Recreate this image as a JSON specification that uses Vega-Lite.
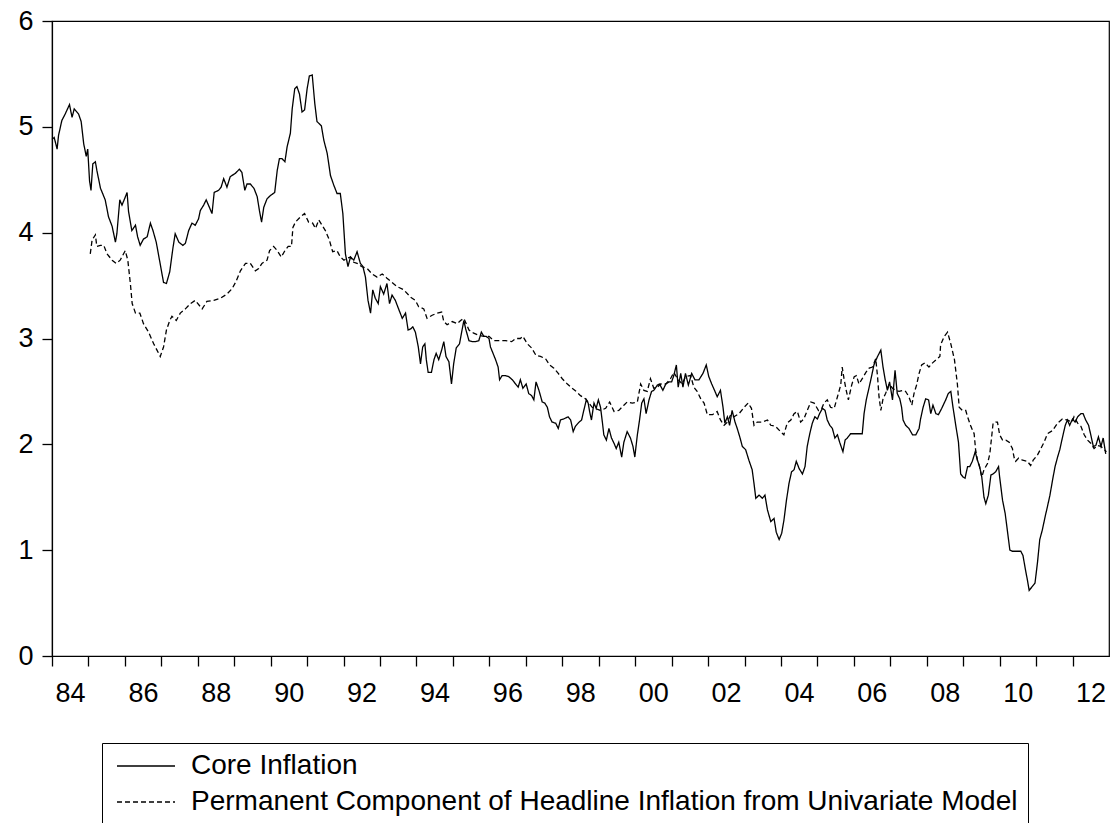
{
 "$schema": "https://vega.github.io/schema/vega-lite/v6.json",
 "width": 1057,
 "height": 635,
 "autosize": {"type": "none"},
 "padding": {"left": 52, "top": 21, "right": 4, "bottom": 167},
 "background": "white",
 "config": {
  "view": {"stroke": "black", "strokeWidth": 1.2},
  "font": "Liberation Sans",
  "axis": {"grid": false, "domain": true, "ticks": true, "domainColor": "black", "domainWidth": 1.2, "tickColor": "black", "tickWidth": 1.3, "labelColor": "black", "labelFont": "Liberation Sans", "labelFontSize": 27, "tickSize": 10, "title": null}
 },
 "datasets": {
  "core": [
   {"t":1984.00,"v":4.88},{"t":1984.06,"v":4.90},{"t":1984.14,"v":4.79},{"t":1984.18,"v":4.92},{"t":1984.27,"v":5.06},{"t":1984.36,"v":5.12},{"t":1984.48,"v":5.21},{"t":1984.55,"v":5.09},{"t":1984.61,"v":5.17},{"t":1984.73,"v":5.12},{"t":1984.80,"v":5.05},{"t":1984.87,"v":4.84},{"t":1984.94,"v":4.72},{"t":1984.98,"v":4.79},
   {"t":1985.03,"v":4.49},{"t":1985.07,"v":4.40},{"t":1985.12,"v":4.65},{"t":1985.19,"v":4.67},{"t":1985.23,"v":4.59},{"t":1985.33,"v":4.42},{"t":1985.46,"v":4.31},{"t":1985.55,"v":4.15},{"t":1985.65,"v":4.06},{"t":1985.74,"v":3.91},{"t":1985.78,"v":3.99},{"t":1985.86,"v":4.31},{"t":1985.92,"v":4.26},{"t":1985.98,"v":4.31},
   {"t":1986.06,"v":4.38},{"t":1986.10,"v":4.20},{"t":1986.19,"v":4.02},{"t":1986.29,"v":4.07},{"t":1986.35,"v":3.96},{"t":1986.42,"v":3.88},{"t":1986.51,"v":3.94},{"t":1986.61,"v":3.96},{"t":1986.70,"v":4.09},{"t":1986.77,"v":4.02},{"t":1986.86,"v":3.91},{"t":1986.95,"v":3.74},
   {"t":1987.06,"v":3.53},{"t":1987.14,"v":3.52},{"t":1987.23,"v":3.63},{"t":1987.32,"v":3.86},{"t":1987.38,"v":3.99},{"t":1987.48,"v":3.91},{"t":1987.59,"v":3.88},{"t":1987.66,"v":3.90},{"t":1987.75,"v":4.02},{"t":1987.84,"v":4.09},{"t":1987.93,"v":4.07},
   {"t":1988.02,"v":4.13},{"t":1988.07,"v":4.21},{"t":1988.16,"v":4.26},{"t":1988.23,"v":4.31},{"t":1988.33,"v":4.23},{"t":1988.39,"v":4.18},{"t":1988.45,"v":4.38},{"t":1988.57,"v":4.40},{"t":1988.64,"v":4.43},{"t":1988.71,"v":4.51},{"t":1988.80,"v":4.43},{"t":1988.89,"v":4.53},
   {"t":1989.03,"v":4.56},{"t":1989.14,"v":4.60},{"t":1989.21,"v":4.57},{"t":1989.29,"v":4.40},{"t":1989.35,"v":4.46},{"t":1989.44,"v":4.46},{"t":1989.54,"v":4.42},{"t":1989.63,"v":4.34},{"t":1989.69,"v":4.21},{"t":1989.75,"v":4.10},{"t":1989.81,"v":4.24},{"t":1989.90,"v":4.32},{"t":1989.99,"v":4.35},
   {"t":1990.11,"v":4.38},{"t":1990.18,"v":4.59},{"t":1990.24,"v":4.70},{"t":1990.31,"v":4.70},{"t":1990.39,"v":4.67},{"t":1990.45,"v":4.81},{"t":1990.54,"v":4.94},{"t":1990.59,"v":5.17},{"t":1990.66,"v":5.36},{"t":1990.72,"v":5.38},{"t":1990.79,"v":5.31},{"t":1990.86,"v":5.14},{"t":1990.93,"v":5.16},
   {"t":1991.00,"v":5.36},{"t":1991.06,"v":5.48},{"t":1991.14,"v":5.49},{"t":1991.21,"v":5.22},{"t":1991.27,"v":5.05},{"t":1991.39,"v":5.01},{"t":1991.46,"v":4.87},{"t":1991.55,"v":4.75},{"t":1991.64,"v":4.54},{"t":1991.73,"v":4.45},{"t":1991.82,"v":4.37},{"t":1991.91,"v":4.37},{"t":1991.98,"v":4.18},
   {"t":1992.05,"v":3.80},{"t":1992.12,"v":3.68},{"t":1992.19,"v":3.77},{"t":1992.28,"v":3.74},{"t":1992.37,"v":3.82},{"t":1992.46,"v":3.71},{"t":1992.53,"v":3.68},{"t":1992.60,"v":3.58},{"t":1992.67,"v":3.36},{"t":1992.74,"v":3.24},{"t":1992.80,"v":3.46},{"t":1992.87,"v":3.38},{"t":1992.95,"v":3.33},
   {"t":1993.01,"v":3.49},{"t":1993.10,"v":3.42},{"t":1993.19,"v":3.52},{"t":1993.26,"v":3.33},{"t":1993.33,"v":3.41},{"t":1993.42,"v":3.36},{"t":1993.52,"v":3.27},{"t":1993.61,"v":3.19},{"t":1993.70,"v":3.24},{"t":1993.77,"v":3.08},{"t":1993.84,"v":3.09},{"t":1993.90,"v":3.11},{"t":1993.97,"v":3.06},
   {"t":1994.05,"v":2.92},{"t":1994.11,"v":2.76},{"t":1994.17,"v":2.92},{"t":1994.23,"v":2.95},{"t":1994.27,"v":2.80},{"t":1994.32,"v":2.68},{"t":1994.41,"v":2.68},{"t":1994.48,"v":2.80},{"t":1994.54,"v":2.86},{"t":1994.61,"v":2.80},{"t":1994.69,"v":2.89},{"t":1994.75,"v":2.97},{"t":1994.81,"v":2.83},{"t":1994.89,"v":2.78},{"t":1994.96,"v":2.57},
   {"t":1995.02,"v":2.76},{"t":1995.09,"v":2.91},{"t":1995.18,"v":2.95},{"t":1995.25,"v":3.08},{"t":1995.30,"v":3.17},{"t":1995.35,"v":3.09},{"t":1995.44,"v":2.98},{"t":1995.53,"v":2.97},{"t":1995.62,"v":2.97},{"t":1995.71,"v":2.98},{"t":1995.78,"v":3.06},{"t":1995.85,"v":3.02},{"t":1995.91,"v":3.02},{"t":1995.99,"v":3.00},
   {"t":1996.03,"v":2.92},{"t":1996.10,"v":2.86},{"t":1996.17,"v":2.80},{"t":1996.24,"v":2.73},{"t":1996.28,"v":2.61},{"t":1996.35,"v":2.65},{"t":1996.44,"v":2.65},{"t":1996.53,"v":2.64},{"t":1996.63,"v":2.61},{"t":1996.72,"v":2.57},{"t":1996.79,"v":2.54},{"t":1996.85,"v":2.61},{"t":1996.92,"v":2.53},
   {"t":1997.01,"v":2.57},{"t":1997.08,"v":2.48},{"t":1997.16,"v":2.46},{"t":1997.22,"v":2.42},{"t":1997.28,"v":2.59},{"t":1997.36,"v":2.51},{"t":1997.45,"v":2.40},{"t":1997.52,"v":2.39},{"t":1997.59,"v":2.35},{"t":1997.65,"v":2.26},{"t":1997.72,"v":2.21},{"t":1997.82,"v":2.20},{"t":1997.89,"v":2.15},{"t":1997.95,"v":2.23},
   {"t":1998.04,"v":2.24},{"t":1998.16,"v":2.26},{"t":1998.23,"v":2.23},{"t":1998.30,"v":2.12},{"t":1998.36,"v":2.17},{"t":1998.46,"v":2.21},{"t":1998.53,"v":2.23},{"t":1998.59,"v":2.32},{"t":1998.66,"v":2.42},{"t":1998.71,"v":2.39},{"t":1998.75,"v":2.31},{"t":1998.80,"v":2.23},{"t":1998.87,"v":2.39},{"t":1998.93,"v":2.34},{"t":1998.99,"v":2.42},
   {"t":1999.05,"v":2.35},{"t":1999.10,"v":2.21},{"t":1999.14,"v":2.09},{"t":1999.21,"v":2.04},{"t":1999.28,"v":2.15},{"t":1999.35,"v":2.06},{"t":1999.42,"v":2.01},{"t":1999.48,"v":1.96},{"t":1999.55,"v":2.02},{"t":1999.63,"v":1.88},{"t":1999.69,"v":2.02},{"t":1999.78,"v":2.12},{"t":1999.87,"v":2.06},{"t":1999.94,"v":1.98},{"t":1999.99,"v":1.88},
   {"t":2000.06,"v":2.09},{"t":2000.12,"v":2.23},{"t":2000.18,"v":2.39},{"t":2000.24,"v":2.43},{"t":2000.30,"v":2.29},{"t":2000.38,"v":2.42},{"t":2000.45,"v":2.50},{"t":2000.51,"v":2.51},{"t":2000.61,"v":2.56},{"t":2000.67,"v":2.57},{"t":2000.76,"v":2.51},{"t":2000.84,"v":2.57},{"t":2000.93,"v":2.59},
   {"t":2001.00,"v":2.59},{"t":2001.06,"v":2.65},{"t":2001.13,"v":2.75},{"t":2001.18,"v":2.54},{"t":2001.25,"v":2.67},{"t":2001.31,"v":2.54},{"t":2001.38,"v":2.67},{"t":2001.46,"v":2.56},{"t":2001.55,"v":2.67},{"t":2001.64,"v":2.61},{"t":2001.75,"v":2.61},{"t":2001.86,"v":2.67},{"t":2001.95,"v":2.75},
   {"t":2002.02,"v":2.64},{"t":2002.10,"v":2.57},{"t":2002.19,"v":2.50},{"t":2002.25,"v":2.45},{"t":2002.34,"v":2.51},{"t":2002.41,"v":2.35},{"t":2002.46,"v":2.20},{"t":2002.53,"v":2.26},{"t":2002.59,"v":2.18},{"t":2002.66,"v":2.32},{"t":2002.74,"v":2.21},{"t":2002.80,"v":2.15},{"t":2002.87,"v":2.07},{"t":2002.94,"v":1.98},
   {"t":2003.03,"v":1.95},{"t":2003.12,"v":1.85},{"t":2003.21,"v":1.76},{"t":2003.26,"v":1.63},{"t":2003.31,"v":1.49},{"t":2003.40,"v":1.52},{"t":2003.49,"v":1.49},{"t":2003.56,"v":1.52},{"t":2003.63,"v":1.38},{"t":2003.72,"v":1.27},{"t":2003.81,"v":1.30},{"t":2003.87,"v":1.17},{"t":2003.95,"v":1.10},
   {"t":2004.02,"v":1.16},{"t":2004.08,"v":1.28},{"t":2004.15,"v":1.47},{"t":2004.22,"v":1.63},{"t":2004.29,"v":1.74},{"t":2004.36,"v":1.76},{"t":2004.42,"v":1.84},{"t":2004.50,"v":1.77},{"t":2004.59,"v":1.72},{"t":2004.66,"v":1.79},{"t":2004.72,"v":1.98},{"t":2004.79,"v":2.10},{"t":2004.86,"v":2.20},{"t":2004.93,"v":2.26},
   {"t":2005.00,"v":2.24},{"t":2005.06,"v":2.29},{"t":2005.14,"v":2.34},{"t":2005.21,"v":2.32},{"t":2005.27,"v":2.23},{"t":2005.34,"v":2.18},{"t":2005.41,"v":2.15},{"t":2005.48,"v":2.06},{"t":2005.55,"v":2.09},{"t":2005.61,"v":2.02},{"t":2005.70,"v":1.93},{"t":2005.76,"v":2.04},{"t":2005.82,"v":2.06},{"t":2005.91,"v":2.10},
   {"t":2006.05,"v":2.10},{"t":2006.23,"v":2.10},{"t":2006.28,"v":2.29},{"t":2006.34,"v":2.42},{"t":2006.42,"v":2.54},{"t":2006.49,"v":2.65},{"t":2006.55,"v":2.75},{"t":2006.65,"v":2.83},{"t":2006.74,"v":2.89},{"t":2006.80,"v":2.73},{"t":2006.86,"v":2.61},{"t":2006.92,"v":2.51},{"t":2006.98,"v":2.59},
   {"t":2007.06,"v":2.42},{"t":2007.13,"v":2.70},{"t":2007.19,"v":2.48},{"t":2007.26,"v":2.43},{"t":2007.31,"v":2.35},{"t":2007.35,"v":2.23},{"t":2007.42,"v":2.18},{"t":2007.51,"v":2.15},{"t":2007.61,"v":2.09},{"t":2007.70,"v":2.09},{"t":2007.79,"v":2.15},{"t":2007.83,"v":2.24},{"t":2007.90,"v":2.35},{"t":2007.97,"v":2.43},
   {"t":2008.05,"v":2.42},{"t":2008.11,"v":2.29},{"t":2008.17,"v":2.37},{"t":2008.25,"v":2.29},{"t":2008.32,"v":2.28},{"t":2008.41,"v":2.34},{"t":2008.52,"v":2.42},{"t":2008.59,"v":2.48},{"t":2008.66,"v":2.50},{"t":2008.72,"v":2.35},{"t":2008.80,"v":2.17},{"t":2008.87,"v":2.02},{"t":2008.93,"v":1.72},
   {"t":2009.00,"v":1.69},{"t":2009.05,"v":1.68},{"t":2009.12,"v":1.79},{"t":2009.18,"v":1.79},{"t":2009.25,"v":1.84},{"t":2009.33,"v":1.93},{"t":2009.39,"v":1.85},{"t":2009.45,"v":1.79},{"t":2009.51,"v":1.69},{"t":2009.57,"v":1.50},{"t":2009.62,"v":1.44},{"t":2009.69,"v":1.52},{"t":2009.76,"v":1.71},{"t":2009.82,"v":1.72},{"t":2009.89,"v":1.74},{"t":2009.97,"v":1.79},
   {"t":2010.00,"v":1.69},{"t":2010.08,"v":1.47},{"t":2010.15,"v":1.35},{"t":2010.21,"v":1.19},{"t":2010.28,"v":1.00},{"t":2010.35,"v":0.99},{"t":2010.46,"v":0.99},{"t":2010.58,"v":0.99},{"t":2010.64,"v":0.95},{"t":2010.70,"v":0.83},{"t":2010.76,"v":0.72},{"t":2010.81,"v":0.62},{"t":2010.88,"v":0.65},{"t":2010.97,"v":0.69},
   {"t":2011.04,"v":0.89},{"t":2011.10,"v":1.10},{"t":2011.17,"v":1.19},{"t":2011.25,"v":1.32},{"t":2011.31,"v":1.41},{"t":2011.38,"v":1.52},{"t":2011.45,"v":1.66},{"t":2011.52,"v":1.79},{"t":2011.59,"v":1.88},{"t":2011.65,"v":1.95},{"t":2011.72,"v":2.06},{"t":2011.80,"v":2.18},{"t":2011.86,"v":2.23},{"t":2011.92,"v":2.18},
   {"t":2012.00,"v":2.24},{"t":2012.07,"v":2.21},{"t":2012.14,"v":2.26},{"t":2012.23,"v":2.29},{"t":2012.29,"v":2.29},{"t":2012.36,"v":2.23},{"t":2012.44,"v":2.18},{"t":2012.50,"v":2.09},{"t":2012.57,"v":1.98},{"t":2012.64,"v":1.99},{"t":2012.71,"v":2.07},{"t":2012.78,"v":1.98},{"t":2012.84,"v":2.06},{"t":2012.91,"v":1.91}
  ],
  "perm": [
   {"t":1985.05,"v":3.80},{"t":1985.10,"v":3.93},{"t":1985.19,"v":3.98},{"t":1985.23,"v":3.87},{"t":1985.33,"v":3.88},{"t":1985.42,"v":3.88},{"t":1985.51,"v":3.80},{"t":1985.65,"v":3.74},{"t":1985.76,"v":3.71},{"t":1985.87,"v":3.74},
   {"t":1986.01,"v":3.83},{"t":1986.08,"v":3.74},{"t":1986.15,"v":3.52},{"t":1986.20,"v":3.33},{"t":1986.29,"v":3.24},{"t":1986.41,"v":3.24},{"t":1986.51,"v":3.14},{"t":1986.65,"v":3.06},{"t":1986.79,"v":2.95},{"t":1986.88,"v":2.89},{"t":1986.97,"v":2.83},
   {"t":1987.06,"v":2.92},{"t":1987.14,"v":3.08},{"t":1987.23,"v":3.17},{"t":1987.29,"v":3.21},{"t":1987.41,"v":3.17},{"t":1987.52,"v":3.24},{"t":1987.66,"v":3.28},{"t":1987.80,"v":3.33},{"t":1987.93,"v":3.36},
   {"t":1988.12,"v":3.28},{"t":1988.25,"v":3.35},{"t":1988.44,"v":3.36},{"t":1988.62,"v":3.38},{"t":1988.80,"v":3.42},{"t":1988.94,"v":3.47},
   {"t":1989.05,"v":3.54},{"t":1989.17,"v":3.64},{"t":1989.31,"v":3.71},{"t":1989.44,"v":3.71},{"t":1989.58,"v":3.64},{"t":1989.67,"v":3.66},{"t":1989.76,"v":3.71},{"t":1989.90,"v":3.74},{"t":1989.97,"v":3.83},
   {"t":1990.08,"v":3.87},{"t":1990.18,"v":3.83},{"t":1990.29,"v":3.77},{"t":1990.39,"v":3.83},{"t":1990.48,"v":3.87},{"t":1990.57,"v":3.87},{"t":1990.61,"v":4.05},{"t":1990.68,"v":4.10},{"t":1990.82,"v":4.15},{"t":1990.93,"v":4.18},
   {"t":1991.04,"v":4.10},{"t":1991.15,"v":4.09},{"t":1991.23,"v":4.04},{"t":1991.32,"v":4.12},{"t":1991.41,"v":4.07},{"t":1991.50,"v":4.02},{"t":1991.61,"v":3.93},{"t":1991.70,"v":3.82},{"t":1991.82,"v":3.83},{"t":1991.91,"v":3.77},
   {"t":1992.01,"v":3.74},{"t":1992.10,"v":3.76},{"t":1992.19,"v":3.77},{"t":1992.28,"v":3.72},{"t":1992.37,"v":3.71},{"t":1992.49,"v":3.68},{"t":1992.65,"v":3.66},{"t":1992.78,"v":3.61},{"t":1992.92,"v":3.58},
   {"t":1993.06,"v":3.61},{"t":1993.19,"v":3.57},{"t":1993.33,"v":3.53},{"t":1993.47,"v":3.49},{"t":1993.65,"v":3.46},{"t":1993.84,"v":3.39},{"t":1993.97,"v":3.36},
   {"t":1994.06,"v":3.30},{"t":1994.20,"v":3.28},{"t":1994.29,"v":3.19},{"t":1994.43,"v":3.22},{"t":1994.57,"v":3.24},{"t":1994.69,"v":3.25},{"t":1994.75,"v":3.16},{"t":1994.84,"v":3.13},{"t":1994.98,"v":3.16},
   {"t":1995.12,"v":3.14},{"t":1995.21,"v":3.17},{"t":1995.30,"v":3.19},{"t":1995.44,"v":3.08},{"t":1995.57,"v":3.05},{"t":1995.71,"v":3.03},{"t":1995.85,"v":3.02},{"t":1995.99,"v":3.02},
   {"t":1996.12,"v":2.98},{"t":1996.26,"v":2.98},{"t":1996.44,"v":2.98},{"t":1996.61,"v":2.97},{"t":1996.72,"v":3.00},{"t":1996.85,"v":3.00},{"t":1996.92,"v":3.02},
   {"t":1997.04,"v":2.95},{"t":1997.16,"v":2.91},{"t":1997.28,"v":2.84},{"t":1997.40,"v":2.83},{"t":1997.54,"v":2.81},{"t":1997.65,"v":2.75},{"t":1997.77,"v":2.72},{"t":1997.89,"v":2.67},
   {"t":1998.00,"v":2.62},{"t":1998.14,"v":2.57},{"t":1998.27,"v":2.53},{"t":1998.38,"v":2.50},{"t":1998.50,"v":2.46},{"t":1998.64,"v":2.43},{"t":1998.82,"v":2.35},
   {"t":1999.05,"v":2.32},{"t":1999.19,"v":2.34},{"t":1999.30,"v":2.40},{"t":1999.42,"v":2.31},{"t":1999.55,"v":2.32},{"t":1999.69,"v":2.37},{"t":1999.78,"v":2.40},{"t":1999.92,"v":2.39},
   {"t":2000.06,"v":2.40},{"t":2000.15,"v":2.57},{"t":2000.24,"v":2.51},{"t":2000.33,"v":2.50},{"t":2000.42,"v":2.62},{"t":2000.51,"v":2.53},{"t":2000.61,"v":2.54},{"t":2000.70,"v":2.57},{"t":2000.84,"v":2.57},{"t":2000.97,"v":2.62},
   {"t":2001.06,"v":2.68},{"t":2001.16,"v":2.62},{"t":2001.29,"v":2.57},{"t":2001.38,"v":2.64},{"t":2001.52,"v":2.65},{"t":2001.61,"v":2.54},{"t":2001.70,"v":2.50},{"t":2001.80,"v":2.43},{"t":2001.89,"v":2.39},{"t":2001.98,"v":2.28},
   {"t":2002.12,"v":2.28},{"t":2002.25,"v":2.31},{"t":2002.34,"v":2.23},{"t":2002.44,"v":2.18},{"t":2002.53,"v":2.21},{"t":2002.62,"v":2.28},{"t":2002.71,"v":2.26},{"t":2002.85,"v":2.29},{"t":2002.99,"v":2.35},
   {"t":2003.10,"v":2.39},{"t":2003.19,"v":2.34},{"t":2003.26,"v":2.18},{"t":2003.35,"v":2.21},{"t":2003.49,"v":2.21},{"t":2003.63,"v":2.23},{"t":2003.72,"v":2.18},{"t":2003.85,"v":2.17},{"t":2003.99,"v":2.12},
   {"t":2004.08,"v":2.09},{"t":2004.17,"v":2.20},{"t":2004.27,"v":2.23},{"t":2004.36,"v":2.29},{"t":2004.45,"v":2.31},{"t":2004.54,"v":2.21},{"t":2004.63,"v":2.24},{"t":2004.72,"v":2.32},{"t":2004.82,"v":2.40},{"t":2004.91,"v":2.39},
   {"t":2005.03,"v":2.32},{"t":2005.12,"v":2.34},{"t":2005.18,"v":2.39},{"t":2005.27,"v":2.42},{"t":2005.36,"v":2.35},{"t":2005.46,"v":2.34},{"t":2005.55,"v":2.45},{"t":2005.64,"v":2.56},{"t":2005.68,"v":2.73},{"t":2005.73,"v":2.62},{"t":2005.79,"v":2.51},{"t":2005.85,"v":2.42},{"t":2005.94,"v":2.56},
   {"t":2006.01,"v":2.64},{"t":2006.07,"v":2.65},{"t":2006.14,"v":2.57},{"t":2006.23,"v":2.62},{"t":2006.33,"v":2.68},{"t":2006.42,"v":2.72},{"t":2006.51,"v":2.73},{"t":2006.60,"v":2.81},{"t":2006.65,"v":2.64},{"t":2006.69,"v":2.45},{"t":2006.74,"v":2.32},{"t":2006.80,"v":2.43},{"t":2006.87,"v":2.48},{"t":2006.97,"v":2.57},
   {"t":2007.06,"v":2.53},{"t":2007.15,"v":2.51},{"t":2007.24,"v":2.50},{"t":2007.35,"v":2.51},{"t":2007.42,"v":2.50},{"t":2007.51,"v":2.45},{"t":2007.59,"v":2.37},{"t":2007.65,"v":2.48},{"t":2007.72,"v":2.56},{"t":2007.79,"v":2.67},{"t":2007.86,"v":2.75},{"t":2007.95,"v":2.77},
   {"t":2008.06,"v":2.73},{"t":2008.16,"v":2.77},{"t":2008.26,"v":2.80},{"t":2008.36,"v":2.83},{"t":2008.38,"v":2.94},{"t":2008.48,"v":3.02},{"t":2008.57,"v":3.06},{"t":2008.66,"v":2.95},{"t":2008.76,"v":2.80},{"t":2008.84,"v":2.57},{"t":2008.89,"v":2.35},{"t":2008.98,"v":2.32},
   {"t":2009.07,"v":2.32},{"t":2009.12,"v":2.26},{"t":2009.21,"v":2.17},{"t":2009.30,"v":2.10},{"t":2009.34,"v":1.95},{"t":2009.39,"v":1.85},{"t":2009.44,"v":1.80},{"t":2009.51,"v":1.69},{"t":2009.57,"v":1.76},{"t":2009.67,"v":1.82},{"t":2009.73,"v":1.91},{"t":2009.78,"v":2.07},{"t":2009.82,"v":2.20},{"t":2009.89,"v":2.21},{"t":2009.94,"v":2.21},
   {"t":2010.00,"v":2.09},{"t":2010.08,"v":2.04},{"t":2010.17,"v":2.04},{"t":2010.26,"v":2.02},{"t":2010.35,"v":1.96},{"t":2010.40,"v":1.87},{"t":2010.44,"v":1.84},{"t":2010.52,"v":1.87},{"t":2010.63,"v":1.85},{"t":2010.76,"v":1.84},{"t":2010.85,"v":1.80},{"t":2010.92,"v":1.85},
   {"t":2011.04,"v":1.90},{"t":2011.13,"v":1.96},{"t":2011.22,"v":2.02},{"t":2011.31,"v":2.10},{"t":2011.45,"v":2.13},{"t":2011.59,"v":2.20},{"t":2011.72,"v":2.24},{"t":2011.86,"v":2.23},{"t":2011.98,"v":2.21},
   {"t":2012.04,"v":2.26},{"t":2012.14,"v":2.20},{"t":2012.23,"v":2.17},{"t":2012.32,"v":2.09},{"t":2012.41,"v":2.04},{"t":2012.50,"v":2.01},{"t":2012.59,"v":1.96},{"t":2012.68,"v":1.99},{"t":2012.78,"v":1.98},{"t":2012.87,"v":1.95},{"t":2012.93,"v":1.93}
  ]
 },
 "layer": [
  {
   "data": {"name": "core"},
   "mark": {"type": "line", "color": "black", "strokeWidth": 1.3},
   "encoding": {
    "x": {"field": "t", "type": "quantitative",
          "scale": {"domain": [1984, 2013], "nice": false, "zero": false},
          "axis": {"values": [1984,1985,1986,1987,1988,1989,1990,1991,1992,1993,1994,1995,1996,1997,1998,1999,2000,2001,2002,2003,2004,2005,2006,2007,2008,2009,2010,2011,2012],
                   "tickCount": 60,
                   "labelExpr": "datum.value % 2 == 0 ? substring(toString(datum.value), 2, 4) : ''",
                   "labelOffset": 18, "labelPadding": 14, "labelOverlap": false, "labelFlush": false, "labelBound": false,
                   "ticks": true, "tickSize": 10, "tickColor": "black", "tickWidth": 1.3}},
    "y": {"field": "v", "type": "quantitative",
          "scale": {"domain": [0, 6], "nice": false, "zero": true},
          "axis": {"values": [0,1,2,3,4,5,6], "tickCount": 20, "format": "d", "labelPadding": 9, "labelFlush": false, "labelOverlap": false,
                   "ticks": true, "tickSize": 10, "tickColor": "black", "tickWidth": 1.3}},
    "strokeDash": {"datum": "Core Inflation",
                   "scale": {"domain": ["Core Inflation", "Permanent Component of Headline Inflation from Univariate Model"], "range": [[1, 0], [5, 3]]},
                   "legend": {"orient": "none", "legendX": 50, "legendY": 722, "title": null, "direction": "vertical",
                              "symbolType": "stroke", "symbolSize": 3364, "symbolStrokeWidth": 1.3, "symbolStrokeColor": "black",
                              "strokeColor": "black", "fillColor": "white", "padding": 10,
                              "labelFont": "Liberation Sans", "labelFontSize": 28, "labelColor": "black", "labelLimit": 1000,
                              "labelOffset": 15, "symbolOffset": 4, "clipHeight": 26, "rowPadding": 8}}
   }
  },
  {
   "data": {"name": "perm"},
   "mark": {"type": "line", "color": "black", "strokeWidth": 1.3},
   "encoding": {
    "x": {"field": "t", "type": "quantitative"},
    "y": {"field": "v", "type": "quantitative"},
    "strokeDash": {"datum": "Permanent Component of Headline Inflation from Univariate Model"}
   }
  }
 ]
}
